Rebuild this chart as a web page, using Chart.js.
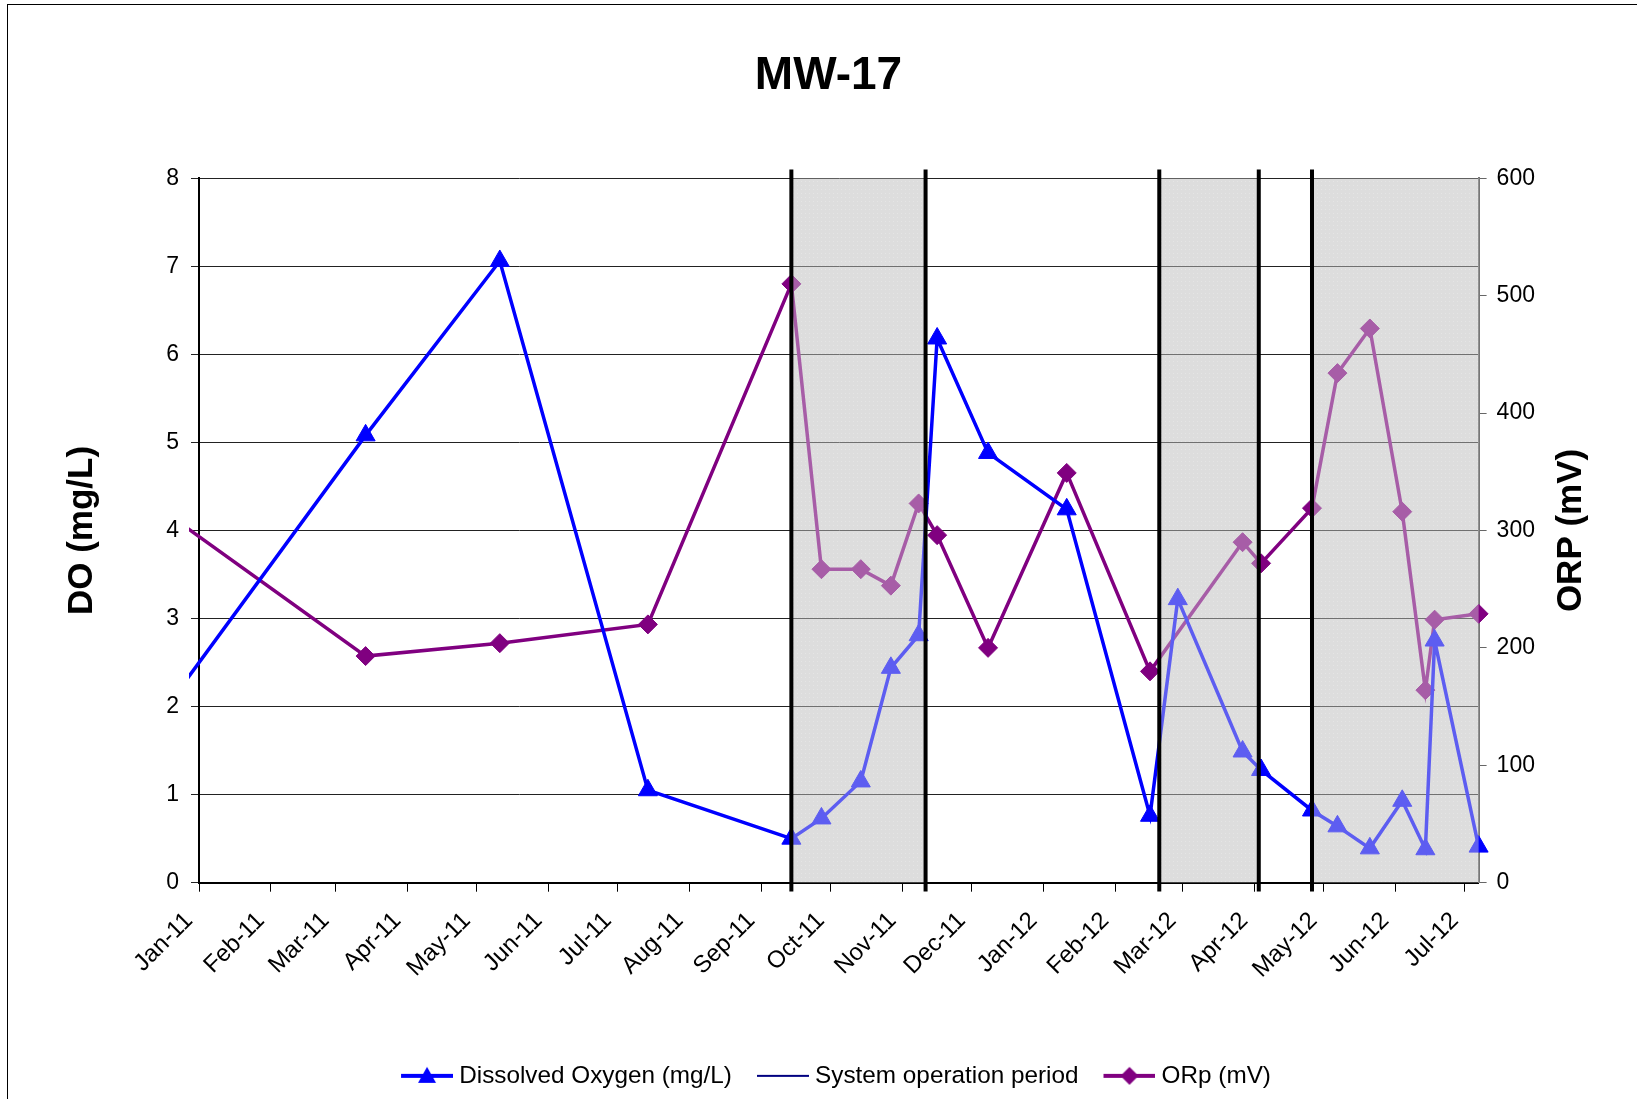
<!DOCTYPE html>
<html>
<head>
<meta charset="utf-8">
<script src="https://cdn.jsdelivr.net/npm/chart.js@4.4.1/dist/chart.umd.min.js"></script>
<style>
  html, body { margin: 0; padding: 0; background: #fff; overflow: hidden; }
  #wrap { position: relative; width: 1637px; height: 1099px; }
  #frame { position: absolute; left: 7px; top: 4px; width: 1700px; height: 1200px;
           border-left: 1.5px solid #000; border-top: 1.5px solid #000; pointer-events: none; }
</style>
</head>
<body>
<div id="wrap"><canvas id="chart"></canvas><div id="frame"></div></div>
<script>
// MW-17 : oxigenio dissolvido e ORP
const sampleDates = [
  "2010-12-22", "2011-03-14", "2011-05-11", "2011-07-14", "2011-09-14",
  "2011-09-27", "2011-10-14", "2011-10-27", "2011-11-08", "2011-11-16",
  "2011-12-08", "2012-01-11", "2012-02-16", "2012-02-28", "2012-03-27",
  "2012-04-04", "2012-04-26", "2012-05-07", "2012-05-21", "2012-06-04",
  "2012-06-14", "2012-06-18", "2012-07-07"
];
const doValues = [
  2.14, 5.08, 7.06, 1.05, 0.50,
  0.73, 1.15, 2.44, 2.81, 6.18,
  4.88, 4.24, 0.76, 3.22, 1.49,
  1.28, 0.82, 0.64, 0.39, 0.93,
  0.38, 2.75, 0.41
];
const orpValues = [
  309, 193, 204, 220, 510,
  267, 267, 253, 323, 296,
  200, 349, 180, null, 290,
  272, 319, 434, 472, 316,
  164, 224, 229
];

// linhas verticais = inicio/fim de operacao do sistema
const opLineDates = ["2011-09-14", "2011-11-11", "2012-02-20", "2012-04-03", "2012-04-26"];
const opLineRange = [-0.1, 8.1];
const opPeriodStarts = ["2011-09-14", "2012-02-20", "2012-04-26"];
const opPeriodEnds = ["2011-11-11", "2012-04-03", "2012-07-07"];

const tickDates = [
  "2011-01-01", "2011-02-01", "2011-03-01", "2011-04-01", "2011-05-01",
  "2011-06-01", "2011-07-01", "2011-08-01", "2011-09-01", "2011-10-01",
  "2011-11-01", "2011-12-01", "2012-01-01", "2012-02-01", "2012-03-01",
  "2012-04-01", "2012-05-01", "2012-06-01", "2012-07-01"
];
const tickLabels = [
  "Jan-11", "Feb-11", "Mar-11", "Apr-11", "May-11", "Jun-11", "Jul-11",
  "Aug-11", "Sep-11", "Oct-11", "Nov-11", "Dec-11", "Jan-12", "Feb-12",
  "Mar-12", "Apr-12", "May-12", "Jun-12", "Jul-12"
];
const axisStart = "2011-01-01";
const axisEnd = "2012-07-07";

const DO_LABEL = "Dissolved Oxygen (mg/L)";
const OP_LABEL = "System operation period";
const ORP_LABEL = "ORp (mV)";
const ORP_TITLE = "ORP (mV)";

// dias desde 1 jan 2011
function dayNum(s) {
  const [y, m, d] = s.split("-").map(Number);
  return (Date.UTC(y, m - 1, d) - Date.UTC(2011, 0, 1)) / 86400000;
}
const tickDays = tickDates.map(dayNum);

const doPoints = sampleDates.map((d, i) => ({ x: dayNum(d), y: doValues[i] }));
const orpPoints = sampleDates.map((d, i) => ({ x: dayNum(d), y: orpValues[i] }));
const opPoints = opLineDates.flatMap((d) => [
  { x: dayNum(d), y: opLineRange[0] },
  { x: dayNum(d), y: opLineRange[1] },
  { x: dayNum(d), y: null },
]);

const FONT = "'Liberation Sans', Arial, sans-serif";
Chart.defaults.font.family = FONT;
Chart.defaults.color = "#000";

// icones da legenda (linha + marcador)
function legendIcon(color, lineWidth, marker) {
  const c = document.createElement("canvas");
  c.width = 73;
  c.height = 24;
  const g = c.getContext("2d");
  g.strokeStyle = color;
  g.fillStyle = color;
  g.lineWidth = lineWidth;
  g.beginPath();
  g.moveTo(21, 12);
  g.lineTo(73, 12);
  g.stroke();
  const cx = 47, cy = 12;
  g.beginPath();
  if (marker === "triangle") {
    g.moveTo(cx, cy - 9);
    g.lineTo(cx + 9, cy + 7);
    g.lineTo(cx - 9, cy + 7);
  } else if (marker === "diamond") {
    g.moveTo(cx, cy - 9);
    g.lineTo(cx + 9, cy);
    g.lineTo(cx, cy + 9);
    g.lineTo(cx - 9, cy);
  }
  g.closePath();
  if (marker) g.fill();
  return c;
}
const iconDO = legendIcon("#0000FF", 4, "triangle");
const iconOP = legendIcon("#000080", 2, null);
const iconORP = legendIcon("#800080", 4, "diamond");

// padrao pontilhado do periodo de operacao
function makePattern() {
  const c = document.createElement("canvas");
  c.width = 4;
  c.height = 4;
  const g = c.getContext("2d");
  g.fillStyle = "#dcdcdc";
  g.fillRect(0, 0, 4, 4);
  g.fillStyle = "#ebebeb";
  g.fillRect(1, 1, 1, 1);
  return c;
}
const patternCanvas = makePattern();

function shadePeriods(chart, fill) {
  const { ctx, chartArea, scales } = chart;
  ctx.save();
  ctx.fillStyle = fill;
  opPeriodStarts.forEach((s, i) => {
    const x0 = scales.x.getPixelForValue(dayNum(s));
    const x1 = scales.x.getPixelForValue(dayNum(opPeriodEnds[i]));
    ctx.fillRect(x0, chartArea.top, x1 - x0, chartArea.bottom - chartArea.top);
  });
  ctx.restore();
}

const periodPlugin = {
  id: "periods",
  beforeDraw(chart) {
    shadePeriods(chart, chart.ctx.createPattern(patternCanvas, "repeat"));
  },
  afterDatasetDraw(chart, args) {
    // sombra semi-transparente por cima das linhas dentro do periodo
    if (chart.data.datasets[args.index].label === DO_LABEL) {
      shadePeriods(chart, "rgba(221,221,221,0.42)");
    }
  },
  afterDraw(chart) {
    const { ctx, chartArea } = chart;
    ctx.save();
    ctx.font = "bold 35px " + FONT;
    ctx.fillStyle = "#000";
    ctx.textAlign = "center";
    ctx.textBaseline = "middle";
    ctx.translate(1571, (chartArea.top + chartArea.bottom) / 2);
    ctx.rotate(-Math.PI / 2);
    ctx.fillText(ORP_TITLE, 0, 0);
    ctx.restore();
  },
};

const clipBox = { left: 10, top: 12, right: 12, bottom: 12 };

new Chart(document.getElementById("chart"), {
  type: "line",
  data: {
    datasets: [
      {
        label: DO_LABEL,
        data: doPoints,
        yAxisID: "y",
        borderColor: "#0000FF",
        backgroundColor: "#0000FF",
        borderWidth: 3.5,
        pointStyle: "triangle",
        pointRadius: 11,
        pointBorderWidth: 1,
        tension: 0,
        clip: clipBox,
        order: 2,
      },
      {
        label: OP_LABEL,
        data: opPoints,
        yAxisID: "y",
        borderColor: "#000",
        borderWidth: 4,
        pointRadius: 0,
        spanGaps: false,
        clip: false,
        order: 1,
      },
      {
        label: ORP_LABEL,
        data: orpPoints,
        yAxisID: "y2",
        borderColor: "#800080",
        backgroundColor: "#800080",
        borderWidth: 3.5,
        pointStyle: "rectRot",
        pointRadius: 9.5,
        pointBorderWidth: 1,
        spanGaps: true,
        tension: 0,
        clip: clipBox,
        order: 3,
      },
    ],
  },
  options: {
    responsive: true,
    maintainAspectRatio: false,
    animation: false,
    events: [],
    layout: { padding: { left: 20, right: 0, top: 0, bottom: 1 } },
    plugins: {
      title: {
        display: true,
        text: "MW-17",
        color: "#000",
        font: { size: 46, weight: "bold" },
        padding: { top: 49, bottom: 74 },
      },
      legend: {
        position: "bottom",
        labels: {
          usePointStyle: true,
          pointStyleWidth: 61,
          padding: 10,
          color: "#000",
          font: { size: 24.3 },
          generateLabels: () => [
            { text: DO_LABEL, pointStyle: iconDO, fillStyle: "#0000FF", strokeStyle: "#0000FF", lineWidth: 0, hidden: false, datasetIndex: 0 },
            { text: OP_LABEL, pointStyle: iconOP, fillStyle: "#000080", strokeStyle: "#000080", lineWidth: 0, hidden: false, datasetIndex: 1 },
            { text: ORP_LABEL, pointStyle: iconORP, fillStyle: "#800080", strokeStyle: "#800080", lineWidth: 0, hidden: false, datasetIndex: 2 },
          ],
        },
      },
      tooltip: { enabled: false },
    },
    scales: {
      x: {
        type: "linear",
        min: dayNum(axisStart),
        max: dayNum(axisEnd),
        afterBuildTicks: (scale) => {
          scale.ticks = tickDays.map((v) => ({ value: v }));
        },
        afterFit: (scale) => {
          scale.height = 171;
        },
        grid: { display: true, drawOnChartArea: false, drawTicks: true, tickLength: 9, color: "#000" },
        border: { display: true, color: "#000", width: 2 },
        ticks: {
          autoSkip: false,
          minRotation: 45,
          maxRotation: 45,
          padding: 15,
          labelOffset: -10,
          font: { size: 24 },
          color: "#000",
          callback: (value) => {
            const i = tickDays.indexOf(value);
            return i >= 0 ? tickLabels[i] : "";
          },
        },
      },
      y: {
        position: "left",
        min: 0,
        max: 8,
        afterFit: (scale) => {
          scale.width = 179;
        },
        grid: { color: "#222", lineWidth: 1, drawTicks: true, tickLength: 8 },
        border: { display: true, color: "#000", width: 2 },
        ticks: { stepSize: 1, padding: 12, font: { size: 23 }, color: "#000" },
        title: {
          display: true,
          text: "DO (mg/L)",
          color: "#000",
          font: { size: 35, weight: "bold" },
          padding: { top: 41, bottom: 0 },
        },
      },
      y2: {
        position: "right",
        min: 0,
        max: 600,
        afterFit: (scale) => {
          scale.width = 158.4;
        },
        grid: { drawOnChartArea: false, drawTicks: true, tickLength: 8, color: "#666" },
        border: { display: true, color: "#777", width: 2 },
        ticks: { stepSize: 100, padding: 10, font: { size: 23 }, color: "#000" },
      },
    },
  },
  plugins: [periodPlugin],
});
</script>
</body>
</html>
